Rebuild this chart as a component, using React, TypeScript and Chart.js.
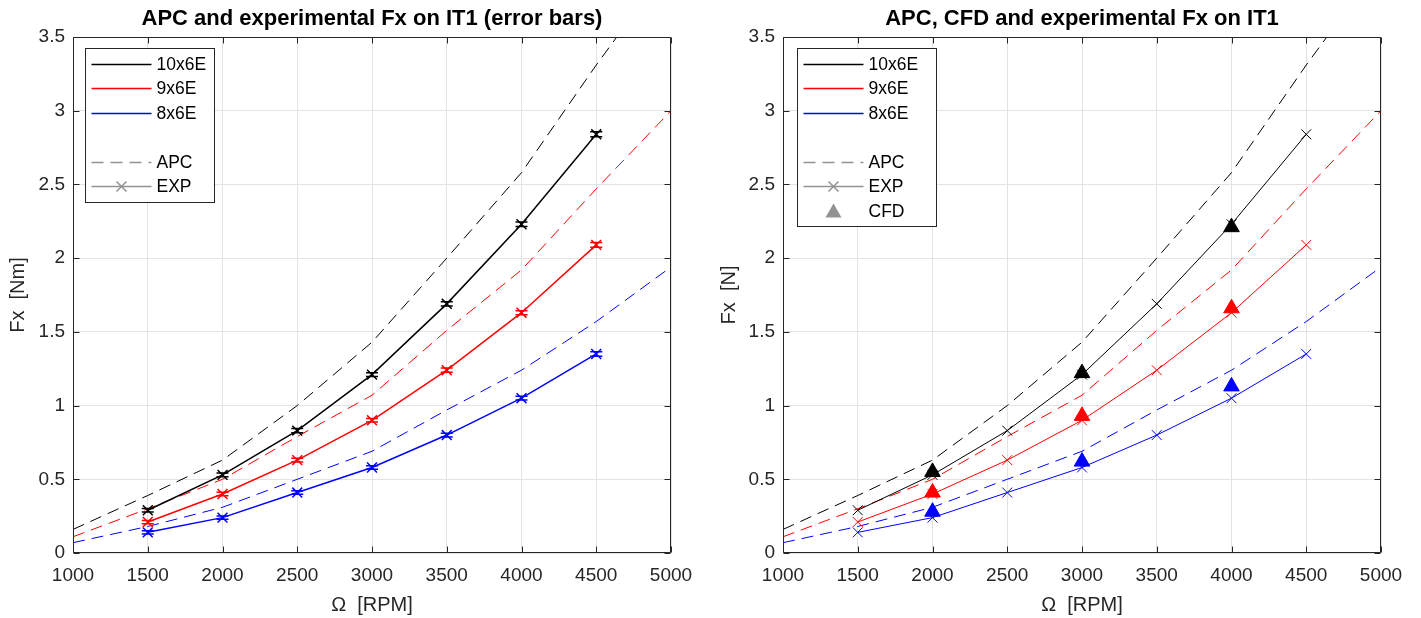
import React, { useEffect, useRef } from 'react';
import { Chart, registerables } from 'chart.js';
Chart.register(...registerables);

// ---- data ----
const rpmApc = [1000, 1500, 2000, 2500, 3000, 3500, 4000, 4500, 5000];
const apc10x6 = [0.16, 0.39, 0.63, 1.0, 1.43, 2.0, 2.58, 3.31, 4.0];
const apc9x6 = [0.11, 0.3, 0.5, 0.79, 1.07, 1.51, 1.92, 2.47, 3.0];
const apc8x6 = [0.07, 0.18, 0.31, 0.5, 0.69, 0.97, 1.24, 1.57, 1.94];

const rpmExp = [1500, 2000, 2500, 3000, 3500, 4000, 4500];
const exp10x6 = [0.29, 0.53, 0.83, 1.21, 1.69, 2.23, 2.84];
const exp9x6 = [0.21, 0.4, 0.63, 0.9, 1.24, 1.63, 2.09];
const exp8x6 = [0.14, 0.24, 0.41, 0.58, 0.8, 1.05, 1.35];
const err10x6 = [0.012, 0.013, 0.014, 0.013, 0.015, 0.016, 0.017];
const err9x6 = [0.011, 0.012, 0.012, 0.012, 0.014, 0.014, 0.016];
const err8x6 = [0.011, 0.011, 0.012, 0.012, 0.013, 0.013, 0.015];

const rpmCfd = [2000, 3000, 4000];
const cfd10x6 = [0.55, 1.22, 2.21];
const cfd9x6 = [0.41, 0.93, 1.66];
const cfd8x6 = [0.28, 0.62, 1.13];

const xTicks = [1000, 1500, 2000, 2500, 3000, 3500, 4000, 4500, 5000];
const yTicks = [0, 0.5, 1, 1.5, 2, 2.5, 3, 3.5];

const propNames = ['10x6E', '9x6E', '8x6E'];
const colors = ['#000000', '#ff0000', '#0000ff'];

const FONT = '"Liberation Sans", Arial, Helvetica, sans-serif';
const AXIS = '#262626';
const GRAY = '#939393';

const pts = (xs: number[], ys: number[]) => xs.map((x, i) => ({ x, y: ys[i] }));

// ---- plugins ----
const framePlugin = {
  id: 'frame',
  afterDatasetsDraw(chart: any) {
    const { ctx, chartArea: a, scales } = chart;
    ctx.save();
    ctx.strokeStyle = AXIS;
    ctx.lineWidth = 1;
    const L = Math.round(a.left) + 0.5, R = Math.round(a.right) - 0.5;
    const T = Math.round(a.top) + 0.5, B = Math.round(a.bottom) - 0.5;
    ctx.beginPath();
    ctx.rect(L, T, R - L, B - T);
    const tl = 6;
    xTicks.forEach((v) => {
      const p = Math.round(scales.x.getPixelForValue(v)) + 0.5;
      ctx.moveTo(p, B); ctx.lineTo(p, B - tl);
      ctx.moveTo(p, T); ctx.lineTo(p, T + tl);
    });
    yTicks.forEach((v) => {
      const p = Math.round(scales.y.getPixelForValue(v)) + 0.5;
      ctx.moveTo(L, p); ctx.lineTo(L + tl, p);
      ctx.moveTo(R, p); ctx.lineTo(R - tl, p);
    });
    ctx.stroke();
    ctx.restore();
  },
};

const titlePlugin = {
  id: 'axesTitle',
  afterDraw(chart: any, _args: any, opts: any) {
    const { ctx, chartArea: a } = chart;
    ctx.save();
    ctx.fillStyle = '#000';
    ctx.font = `bold 22px ${FONT}`;
    ctx.textAlign = 'center';
    ctx.textBaseline = 'middle';
    ctx.fillText(opts.text, (a.left + a.right) / 2, a.top - 18);
    ctx.restore();
  },
};

const errorBarPlugin = {
  id: 'errorBars',
  afterDatasetsDraw(chart: any) {
    const { ctx, scales } = chart;
    chart.data.datasets.forEach((ds: any, i: number) => {
      if (!ds.errors) return;
      const meta = chart.getDatasetMeta(i);
      ctx.save();
      ctx.strokeStyle = ds.borderColor;
      ctx.lineWidth = 1.5;
      meta.data.forEach((el: any, j: number) => {
        const v = ds.data[j].y;
        const e = ds.errors[j];
        const x = el.x;
        const y1 = scales.y.getPixelForValue(v - e);
        const y2 = scales.y.getPixelForValue(v + e);
        const w = 6;
        ctx.beginPath();
        ctx.moveTo(x, y1); ctx.lineTo(x, y2);
        ctx.moveTo(x - w, y1); ctx.lineTo(x + w, y1);
        ctx.moveTo(x - w, y2); ctx.lineTo(x + w, y2);
        ctx.stroke();
      });
      ctx.restore();
    });
  },
};

type Entry = { label: string; color: string; kind: 'line' | 'dash' | 'lineX' | 'tri' | 'gap' };

const legendPlugin = {
  id: 'customLegend',
  afterDraw(chart: any, _args: any, opts: any) {
    const entries: Entry[] = opts.entries;
    if (!entries) return;
    const { ctx, chartArea: a } = chart;
    const x0 = Math.round(a.left + opts.dx) + 0.5;
    const y0 = Math.round(a.top + opts.dy) + 0.5;
    const w = opts.width;
    const rowH = 24.5;
    const h = opts.height;
    ctx.save();
    ctx.fillStyle = '#ffffff';
    ctx.fillRect(x0, y0, w, h);
    ctx.strokeStyle = AXIS;
    ctx.lineWidth = 1;
    ctx.strokeRect(x0, y0, w, h);
    ctx.font = `17.5px ${FONT}`;
    ctx.textBaseline = 'middle';
    ctx.textAlign = 'left';
    const ls = x0 + 6, le = x0 + 66, tx = x0 + 71;
    entries.forEach((en, i) => {
      const y = Math.round(y0 + 15 + i * rowH) + 0.5;
      if (en.kind === 'gap') return;
      ctx.strokeStyle = en.color;
      ctx.fillStyle = en.color;
      ctx.lineWidth = opts.lw;
      if (en.kind === 'line' || en.kind === 'lineX' || en.kind === 'dash') {
        ctx.setLineDash(en.kind === 'dash' ? [12, 7] : []);
        ctx.beginPath();
        ctx.moveTo(ls, y); ctx.lineTo(le, y);
        ctx.stroke();
        ctx.setLineDash([]);
      }
      if (en.kind === 'lineX') {
        const m = (ls + le) / 2, r = 5;
        ctx.beginPath();
        ctx.moveTo(m - r, y - r); ctx.lineTo(m + r, y + r);
        ctx.moveTo(m - r, y + r); ctx.lineTo(m + r, y - r);
        ctx.stroke();
      }
      if (en.kind === 'tri') {
        const m = (ls + le) / 2;
        ctx.beginPath();
        ctx.moveTo(m, y - 8); ctx.lineTo(m + 8, y + 6); ctx.lineTo(m - 8, y + 6);
        ctx.closePath();
        ctx.fill();
      }
      ctx.fillStyle = '#000';
      ctx.fillText(en.label, tx, y + 1);
    });
    ctx.restore();
  },
};

function makeOptions(title: string, yLabel: string, yWidth: number, legend: any): any {
  return {
    responsive: false,
    animation: false,
    layout: { padding: { left: 0, right: 40, top: 37, bottom: 0 } },
    plugins: {
      legend: { display: false },
      tooltip: { enabled: false },
      title: { display: false },
      axesTitle: { text: title },
      customLegend: legend,
    },
    scales: {
      x: {
        type: 'linear',
        min: 1000,
        max: 5000,
        afterFit: (s: any) => { s.height = 65; },
        afterBuildTicks: (s: any) => { s.ticks = xTicks.map((v) => ({ value: v })); },
        ticks: {
          color: AXIS,
          font: { family: FONT, size: 19 },
          padding: 11,
          maxRotation: 0,
          callback: (v: any) => String(v),
        },
        grid: { color: '#e3e3e3', lineWidth: 1, drawTicks: false },
        border: { display: false },
        title: {
          display: true,
          text: 'Ω  [RPM]',
          color: AXIS,
          font: { family: FONT, size: 20 },
          padding: { top: 0, bottom: 1 },
        },
      },
      y: {
        type: 'linear',
        min: 0,
        max: 3.5,
        afterFit: (s: any) => { s.width = yWidth; },
        afterBuildTicks: (s: any) => { s.ticks = yTicks.map((v) => ({ value: v })); },
        ticks: {
          color: AXIS,
          font: { family: FONT, size: 19 },
          padding: 8,
          callback: (v: any) => String(Math.round(v * 10) / 10),
        },
        grid: { color: '#e3e3e3', lineWidth: 1, drawTicks: false },
        border: { display: false },
        title: {
          display: true,
          text: yLabel,
          color: AXIS,
          font: { family: FONT, size: 20 },
          padding: { top: 6, bottom: 0 },
        },
      },
    },
  };
}

function apcSets(lw: number) {
  const vals = [apc10x6, apc9x6, apc8x6];
  return vals.map((v, i) => ({
    type: 'line',
    data: pts(rpmApc, v),
    borderColor: colors[i],
    backgroundColor: colors[i],
    borderWidth: lw,
    borderDash: [12, 7],
    pointRadius: 0,
    tension: 0,
    order: 3,
  }));
}

function expSets(lw: number, withErr: boolean) {
  const vals = [exp10x6, exp9x6, exp8x6];
  const errs = [err10x6, err9x6, err8x6];
  return vals.map((v, i) => ({
    type: 'line',
    data: pts(rpmExp, v),
    borderColor: colors[i],
    backgroundColor: colors[i],
    borderWidth: lw,
    pointStyle: 'crossRot',
    pointRadius: 7,
    pointBorderWidth: lw,
    tension: 0,
    order: 2,
    errors: withErr ? errs[i] : undefined,
  }));
}

function cfdSets() {
  const vals = [cfd10x6, cfd9x6, cfd8x6];
  return vals.map((v, i) => ({
    type: 'line',
    data: pts(rpmCfd, v),
    borderColor: colors[i],
    backgroundColor: colors[i],
    showLine: false,
    pointStyle: 'triangle',
    pointRadius: 9,
    pointBorderWidth: 1,
    order: 1,
  }));
}

const leftLegend: Entry[] = [
  { label: propNames[0], color: colors[0], kind: 'line' },
  { label: propNames[1], color: colors[1], kind: 'line' },
  { label: propNames[2], color: colors[2], kind: 'line' },
  { label: '', color: GRAY, kind: 'gap' },
  { label: 'APC', color: GRAY, kind: 'dash' },
  { label: 'EXP', color: GRAY, kind: 'lineX' },
];
const rightLegend: Entry[] = [...leftLegend, { label: 'CFD', color: GRAY, kind: 'tri' }];

function ChartCanvas({ config, width, height }: { config: any; width: number; height: number }) {
  const ref = useRef<HTMLCanvasElement>(null);
  useEffect(() => {
    if (!ref.current) return;
    const c = new Chart(ref.current, config);
    return () => c.destroy();
  }, [config]);
  return <canvas ref={ref} width={width} height={height} style={{ display: 'block', width, height }} />;
}

const leftConfig = {
  type: 'line',
  data: { datasets: [...apcSets(1), ...expSets(1.5, true)] },
  options: makeOptions('APC and experimental Fx on IT1 (error bars)', 'Fx  [Nm]', 73, {
    entries: leftLegend, dx: 12, dy: 11, width: 129, height: 154, lw: 1.5,
  }),
  plugins: [framePlugin, errorBarPlugin, titlePlugin, legendPlugin],
};

const rightConfig = {
  type: 'line',
  data: { datasets: [...cfdSets(), ...apcSets(1), ...expSets(1, false)] },
  options: makeOptions('APC, CFD and experimental Fx on IT1', 'Fx  [N]', 72, {
    entries: rightLegend, dx: 14, dy: 11, width: 139, height: 178, lw: 1.5,
  }),
  plugins: [framePlugin, titlePlugin, legendPlugin],
};

export default function App() {
  return (
    <div style={{ position: 'absolute', left: 0, top: 0, width: 1421, height: 618, display: 'flex', background: '#fff' }}>
      <ChartCanvas config={leftConfig} width={711} height={618} />
      <ChartCanvas config={rightConfig} width={710} height={618} />
    </div>
  );
}
